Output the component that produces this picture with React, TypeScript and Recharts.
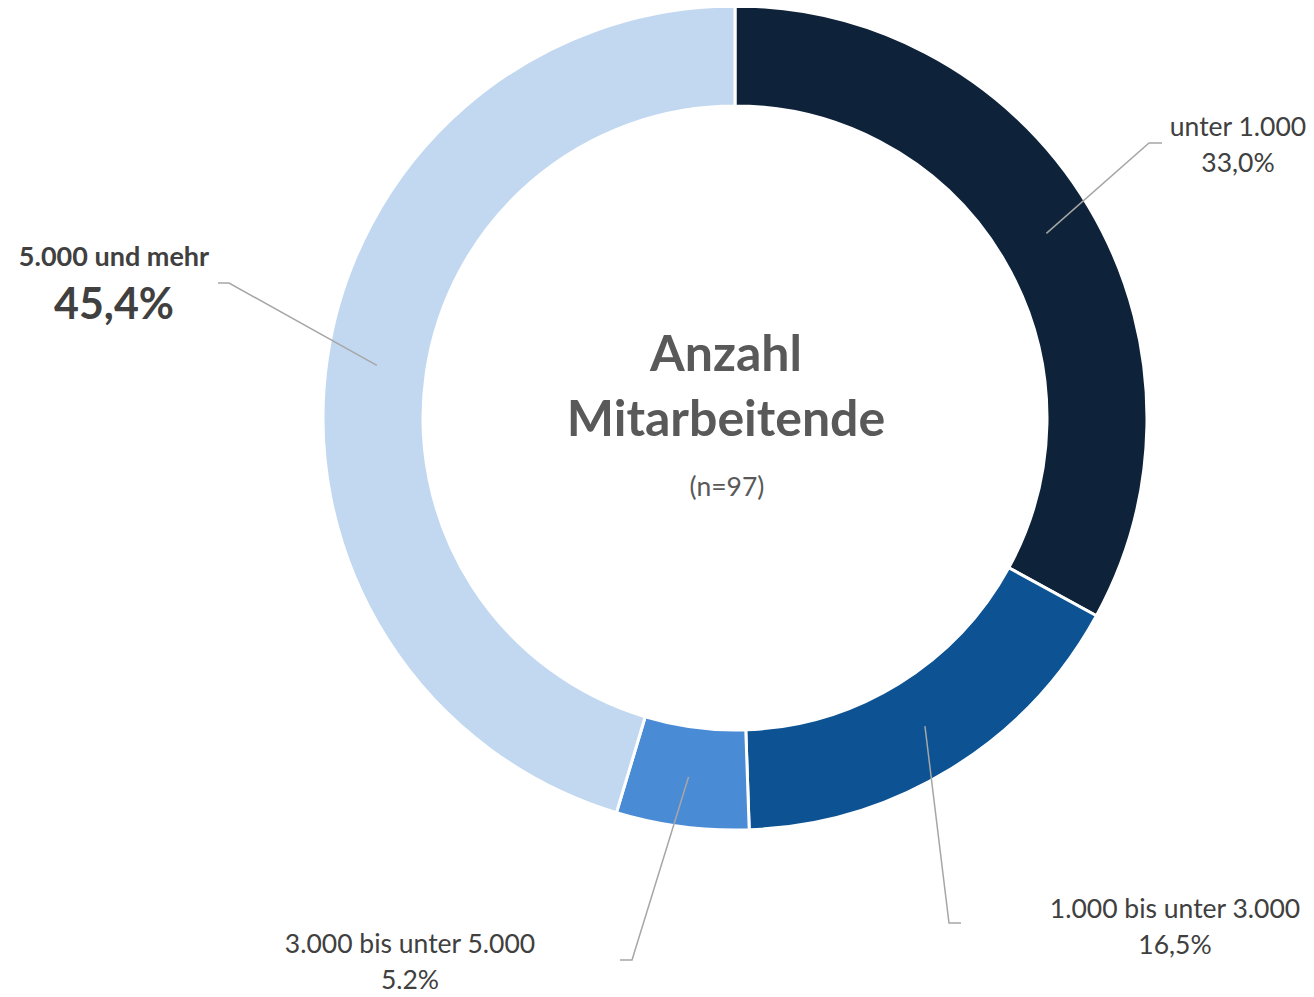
import { PieChart, Pie, Cell, Label } from 'recharts';

const categories = ['unter 1.000', '1.000 bis unter 3.000', '3.000 bis unter 5.000', '5.000 und mehr'];
const shares = [33.0, 16.5, 5.2, 45.4];
const sliceColors = ['#0e2239', '#0d5394', '#4a8bd6', '#c2d8f0'];
const centerTitle = ['Anzahl', 'Mitarbeitende'];
const sampleNote = '(n=97)';

const data = categories.map((name, i) => ({ name, value: shares[i] }));

// label placement: elbow point, end of short horizontal tick, text centre
const labelLayout = [
  { elbow: [1149, 143], tick: [1162, 143], text: [1238, 126], bold: false },
  { elbow: [949, 923], tick: [961, 923], text: [1175, 908], bold: false },
  { elbow: [632, 960], tick: [620, 960], text: [410, 943], bold: false },
  { elbow: [229, 283], tick: [218, 283], text: [114, 255], bold: true },
];

const RADIAN = Math.PI / 180;
const FONT = 'Lato, Carlito, "Noto Sans", sans-serif';
const fmtPct = (v: number) => `${v.toFixed(1).replace('.', ',')}%`;

function renderLabel(props: any) {
  const { cx, cy, midAngle, innerRadius, outerRadius, index, value, name } = props;
  const lay = labelLayout[index];
  const r = (innerRadius + outerRadius) / 2;
  const sx = cx + r * Math.cos(-midAngle * RADIAN);
  const sy = cy + r * Math.sin(-midAngle * RADIAN);
  const [tx, ty] = lay.text;
  return (
    <g key={`lbl-${index}`}>
      <polyline
        points={`${sx},${sy} ${lay.elbow[0]},${lay.elbow[1]} ${lay.tick[0]},${lay.tick[1]}`}
        fill="none"
        stroke="#a6a6a6"
        strokeWidth={1.5}
      />
      {lay.bold ? (
        <>
          <text x={tx} y={ty} textAnchor="middle" dominantBaseline="central"
            fontFamily={FONT} fontSize={27} fontWeight={700} fill="#404040">{name}</text>
          <text x={tx} y={ty + 47} textAnchor="middle" dominantBaseline="central"
            fontFamily={FONT} fontSize={43} fontWeight={700} fill="#404040">{fmtPct(value)}</text>
        </>
      ) : (
        <>
          <text x={tx} y={ty} textAnchor="middle" dominantBaseline="central"
            fontFamily={FONT} fontSize={26.5} fill="#404040">{name}</text>
          <text x={tx} y={ty + 36} textAnchor="middle" dominantBaseline="central"
            fontFamily={FONT} fontSize={26.5} fill="#404040">{fmtPct(value)}</text>
        </>
      )}
    </g>
  );
}

function CenterText(props: any) {
  const vb = props.viewBox || {};
  const cx = vb.cx ?? 735;
  const cy = vb.cy ?? 418;
  return (
    <g>
      <text x={cx - 9} y={cy - 66} textAnchor="middle" dominantBaseline="central"
        fontFamily={FONT} fontSize={50} fontWeight={700} fill="#595959">{centerTitle[0]}</text>
      <text x={cx - 9} y={cy - 1} textAnchor="middle" dominantBaseline="central"
        fontFamily={FONT} fontSize={50} fontWeight={700} fill="#595959">{centerTitle[1]}</text>
      <text x={cx - 8} y={cy + 68} textAnchor="middle" dominantBaseline="central"
        fontFamily={FONT} fontSize={26.5} fill="#595959">{sampleNote}</text>
    </g>
  );
}

export default function App() {
  return (
    <div style={{ margin: -8, width: 1314, height: 997, background: '#fff' }}>
      <PieChart width={1314} height={997} margin={{ top: 0, right: 0, bottom: 0, left: 0 }}>
        <Pie
          data={data}
          dataKey="value"
          nameKey="name"
          cx={735}
          cy={418}
          innerRadius={312}
          outerRadius={412}
          startAngle={90}
          endAngle={-270}
          stroke="#ffffff"
          strokeWidth={3}
          label={renderLabel}
          labelLine={false}
          isAnimationActive={false}
        >
          {data.map((d, i) => (
            <Cell key={d.name} fill={sliceColors[i]} />
          ))}
          <Label position="center" content={<CenterText />} />
        </Pie>
      </PieChart>
    </div>
  );
}
